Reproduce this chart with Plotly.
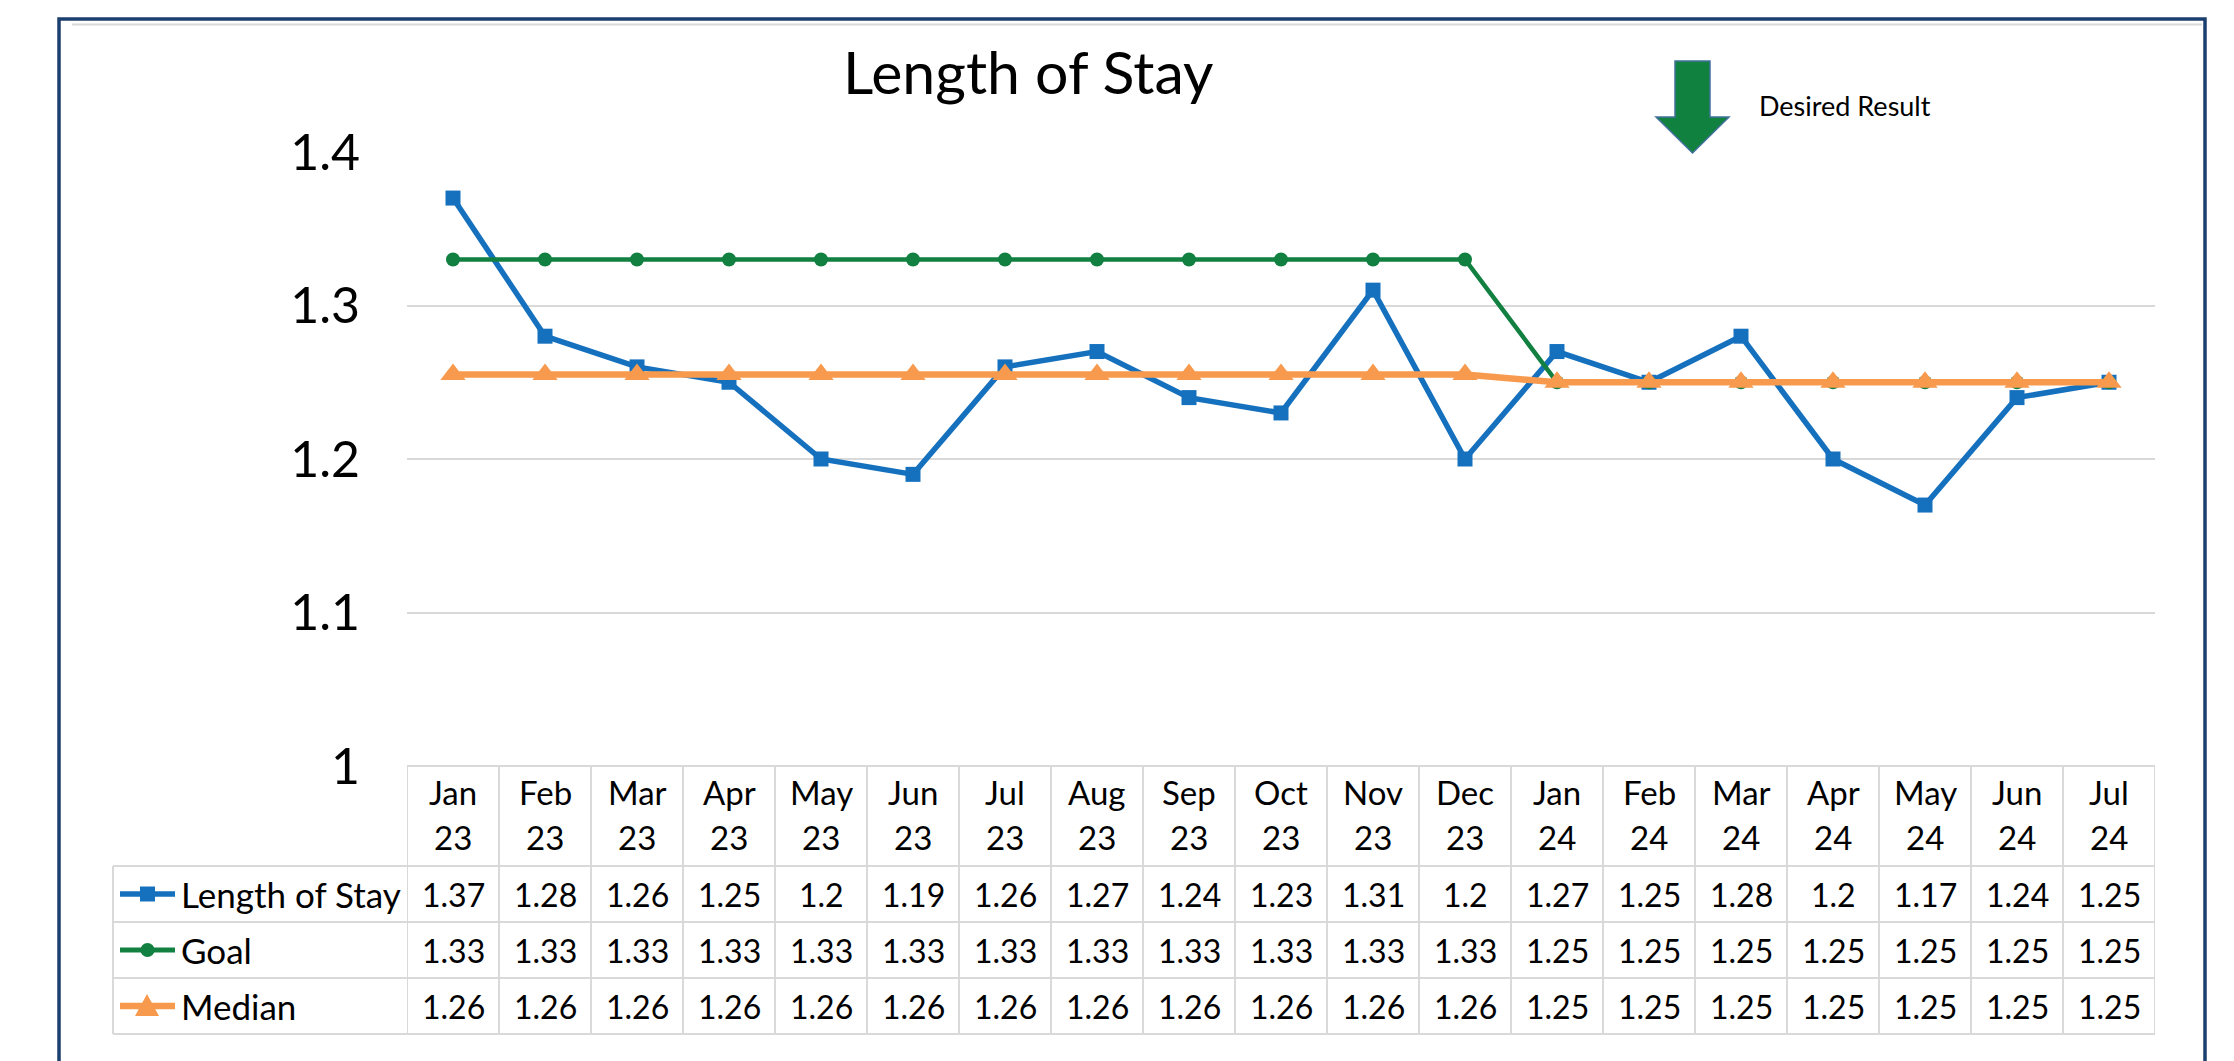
import plotly.graph_objects as go

# ---------------- data ----------------
categories = ["Jan 23", "Feb 23", "Mar 23", "Apr 23", "May 23", "Jun 23", "Jul 23",
              "Aug 23", "Sep 23", "Oct 23", "Nov 23", "Dec 23", "Jan 24", "Feb 24",
              "Mar 24", "Apr 24", "May 24", "Jun 24", "Jul 24"]
length_of_stay = [1.37, 1.28, 1.26, 1.25, 1.2, 1.19, 1.26, 1.27, 1.24, 1.23, 1.31, 1.2,
                  1.27, 1.25, 1.28, 1.2, 1.17, 1.24, 1.25]
goal = [1.33] * 12 + [1.25] * 7
median = [1.255] * 12 + [1.25] * 7
y_ticks = [1.0, 1.1, 1.2, 1.3, 1.4]
y_tick_labels = ["1", "1.1", "1.2", "1.3", "1.4"]
series_names = ["Length of Stay", "Goal", "Median"]

# ---------------- styling ----------------
W, H = 2234, 1061
FONT = "Lato"
BLUE = "#1570BE"
GREEN = "#118040"
ORANGE = "#F79A4E"
GRID = "#D9D9D9"
NAVY = "#1B3F6E"


def px_x(x):
    return x / W


def px_y(y):
    return 1 - y / H


plot_left, plot_right = 407, 2155
y_top_px, y_bot_px = 152, 766

fig = go.Figure()

fig.add_trace(go.Scatter(x=categories, y=length_of_stay, mode="lines+markers",
                         line=dict(color=BLUE, width=5.5),
                         marker=dict(symbol="square", size=15, color=BLUE),
                         cliponaxis=False, name=series_names[0]))
fig.add_trace(go.Scatter(x=categories, y=goal, mode="lines+markers",
                         line=dict(color=GREEN, width=4.5),
                         marker=dict(symbol="circle", size=14, color=GREEN),
                         cliponaxis=False, name=series_names[1]))
fig.add_trace(go.Scatter(x=categories, y=median, mode="lines+markers",
                         line=dict(color=ORANGE, width=6.5),
                         marker=dict(symbol="triangle-up", size=22, color=ORANGE),
                         cliponaxis=False, name=series_names[2]))

shapes = []
annotations = []

# outer border
shapes.append(dict(type="path", xref="paper", yref="paper",
                   path=f"M {px_x(59)},{px_y(1100)} L {px_x(59)},{px_y(19)} L {px_x(2205)},{px_y(19)} L {px_x(2205)},{px_y(1100)}",
                   line=dict(color=NAVY, width=3.5)))
# faint line under top border
shapes.append(dict(type="line", xref="paper", yref="paper",
                   x0=px_x(72), x1=px_x(2202), y0=px_y(24.5), y1=px_y(24.5),
                   line=dict(color=GRID, width=2)))

# data table grid
n = len(categories)
row_bounds = [866, 922, 978, 1034]
shapes.append(dict(type="line", xref="x", yref="paper", x0=-0.5, x1=n - 0.5,
                   y0=px_y(766), y1=px_y(766), line=dict(color=GRID, width=2)))
for yb in row_bounds:
    shapes.append(dict(type="line", xref="paper", yref="paper", x0=px_x(113), x1=px_x(plot_right),
                       y0=px_y(yb), y1=px_y(yb), line=dict(color=GRID, width=2)))
shapes.append(dict(type="line", xref="paper", yref="paper", x0=px_x(113), x1=px_x(113),
                   y0=px_y(866), y1=px_y(1034), line=dict(color=GRID, width=2)))
for i in range(n + 1):
    shapes.append(dict(type="line", xref="x", yref="paper", x0=i - 0.5, x1=i - 0.5,
                       y0=px_y(766), y1=px_y(1034), line=dict(color=GRID, width=2)))

# header labels
for i, c in enumerate(categories):
    mon, yr = c.split(" ")
    annotations.append(dict(x=i, y=px_y(792), xref="x", yref="paper", text=mon, showarrow=False,
                            font=dict(family=FONT, size=33, color="black"), xanchor="center", yanchor="middle"))
    annotations.append(dict(x=i, y=px_y(837), xref="x", yref="paper", text=yr, showarrow=False,
                            font=dict(family=FONT, size=33, color="black"), xanchor="center", yanchor="middle"))


def fmt(v):
    s = f"{round(v + 1e-9, 2):.2f}".rstrip("0").rstrip(".")
    return s


row_centers = [894, 950, 1006]
for r, (vals, yc) in enumerate(zip([length_of_stay, goal, median], row_centers)):
    for i, v in enumerate(vals):
        annotations.append(dict(x=i, y=px_y(yc), xref="x", yref="paper", text=fmt(v), showarrow=False,
                                font=dict(family=FONT, size=32, color="black"),
                                xanchor="center", yanchor="middle"))
    annotations.append(dict(x=px_x(179), y=px_y(yc), xref="paper", yref="paper", text=series_names[r],
                            showarrow=False, font=dict(family=FONT, size=35, color="black"),
                            xanchor="left", yanchor="middle"))

# legend keys
key_colors = [BLUE, GREEN, ORANGE]
key_widths = [5.5, 5, 6.5]
for (yc, col, lw) in zip(row_centers, key_colors, key_widths):
    shapes.append(dict(type="line", xref="paper", yref="paper", x0=px_x(120), x1=px_x(175),
                       y0=px_y(yc), y1=px_y(yc), line=dict(color=col, width=lw)))
# square
shapes.append(dict(type="rect", xref="paper", yref="paper", x0=px_x(140), x1=px_x(155),
                   y0=px_y(886.5), y1=px_y(901.5), fillcolor=BLUE, line=dict(width=0)))
# circle
shapes.append(dict(type="circle", xref="paper", yref="paper", x0=px_x(140.5), x1=px_x(154.5),
                   y0=px_y(943), y1=px_y(957), fillcolor=GREEN, line=dict(width=0)))
# triangle
shapes.append(dict(type="path", xref="paper", yref="paper",
                   path=f"M {px_x(135)},{px_y(1016)} L {px_x(159)},{px_y(1016)} L {px_x(147)},{px_y(994)} Z",
                   fillcolor=ORANGE, line=dict(width=0)))

# desired-result arrow
arrow_path = (f"M {px_x(1675)},{px_y(61)} L {px_x(1710)},{px_y(61)} L {px_x(1710)},{px_y(117)} "
              f"L {px_x(1729)},{px_y(117)} L {px_x(1692.5)},{px_y(153)} L {px_x(1656)},{px_y(117)} "
              f"L {px_x(1675)},{px_y(117)} Z")
shapes.append(dict(type="path", xref="paper", yref="paper", path=arrow_path,
                   fillcolor="#10813E", line=dict(color="#41719C", width=1.5)))
annotations.append(dict(x=px_x(1757), y=px_y(106), xref="paper", yref="paper", text="Desired Result",
                        showarrow=False, font=dict(family=FONT, size=27, color="black"),
                        xanchor="left", yanchor="middle"))

# title
annotations.append(dict(x=px_x(1028), y=px_y(71), xref="paper", yref="paper", text="Length of Stay",
                        showarrow=False, font=dict(family=FONT, size=59, color="black"),
                        xanchor="center", yanchor="middle"))

fig.update_layout(
    width=W, height=H,
    margin=dict(l=0, r=0, t=0, b=0, pad=0, autoexpand=False),
    paper_bgcolor="white", plot_bgcolor="white",
    showlegend=False,
    shapes=shapes, annotations=annotations,
    xaxis=dict(domain=[px_x(plot_left), px_x(plot_right)], range=[-0.5, n - 0.5],
               showticklabels=False, showgrid=False, zeroline=False, showline=False,
               automargin=False,
               type="category", categoryorder="array", categoryarray=categories),
    yaxis=dict(domain=[px_y(y_bot_px), px_y(y_top_px)], range=[1.0, 1.4],
               tickvals=y_ticks, ticktext=y_tick_labels,
               tickfont=dict(family=FONT, size=50, color="black"),
               ticks="outside", ticklen=36, tickcolor="rgba(0,0,0,0)",
               showgrid=True, gridcolor=GRID, gridwidth=2, automargin=False,
               zeroline=False, showline=False),
)

fig.write_html("out.html", config={"displayModeBar": False},
               post_script="document.body.style.margin='0';")
